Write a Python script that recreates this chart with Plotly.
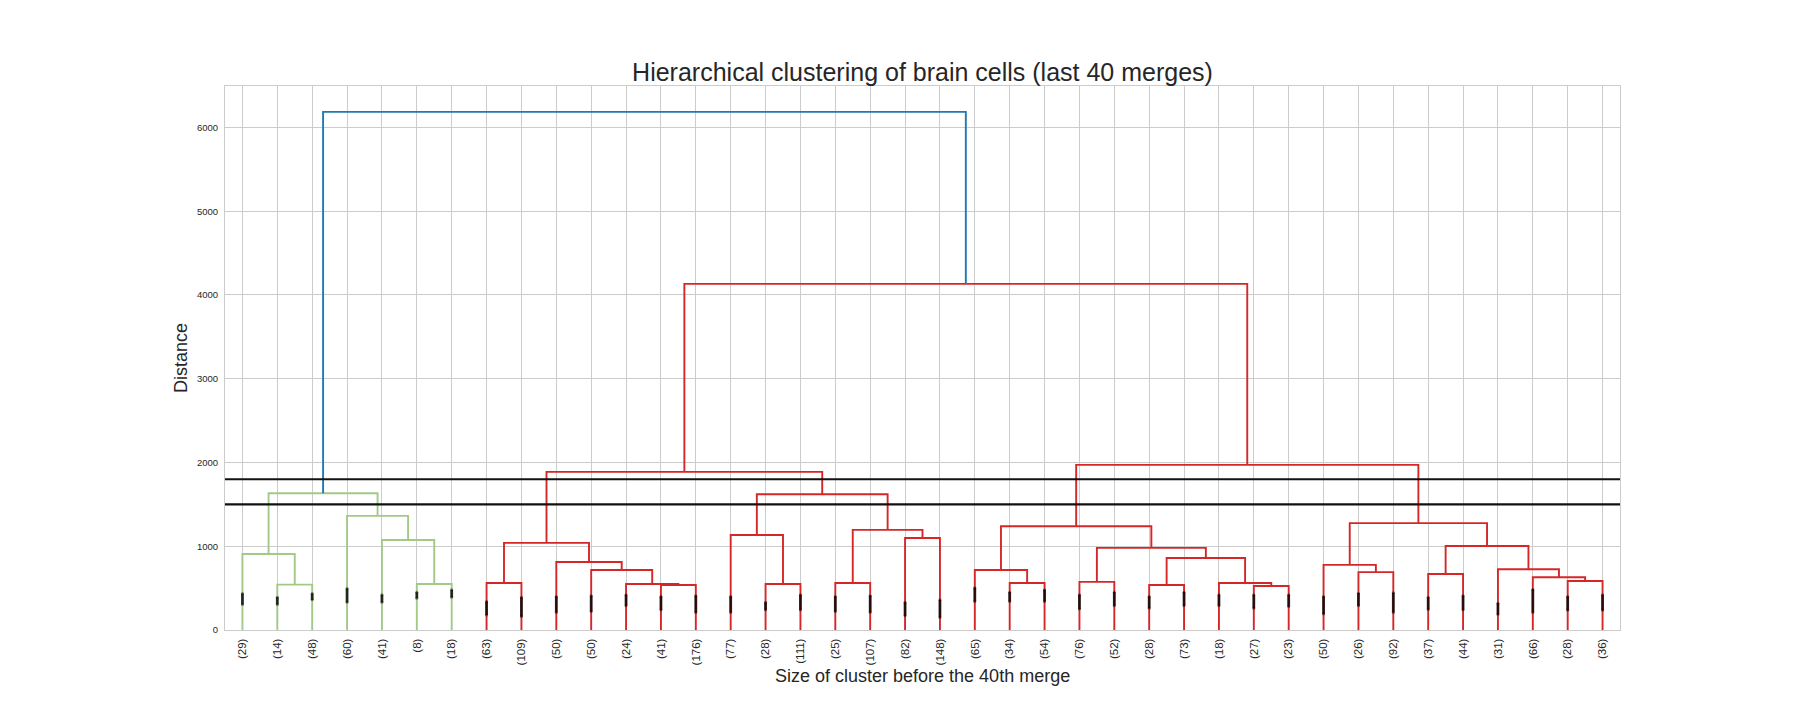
import plotly.graph_objects as go

# ---------------- data ----------------
leaf_labels = ["(29)", "(14)", "(48)", "(60)", "(41)", "(8)", "(18)", "(63)", "(109)", "(50)",
               "(50)", "(24)", "(41)", "(176)", "(77)", "(28)", "(111)", "(25)", "(107)", "(82)",
               "(148)", "(65)", "(34)", "(54)", "(76)", "(52)", "(28)", "(73)", "(18)", "(27)",
               "(23)", "(50)", "(26)", "(92)", "(37)", "(44)", "(31)", "(66)", "(28)", "(36)"]

# merges (node id = 40 + index); children refer to leaf index (<40) or earlier merge id
merge_a = [1, 0, 5, 4, 3, 41,
           7, 12, 11, 10, 9, 46, 15, 14, 17, 19, 54, 53, 51,
           22, 21, 24, 26, 29, 28, 62, 61, 60, 32, 31, 34, 38, 37, 36, 70, 69, 67, 58,
           45]
merge_b = [2, 40, 6, 42, 43, 44,
           8, 13, 47, 48, 49, 50, 16, 52, 18, 20, 55, 56, 57,
           23, 59, 25, 27, 30, 63, 64, 65, 66, 33, 68, 35, 39, 71, 72, 73, 74, 75, 76,
           77]
merge_height = [542, 908, 550, 1075, 1362, 1633,
                562, 538, 550, 717, 811, 1040, 550, 1135, 562, 1099, 1195, 1621, 1888,
                562, 717, 574, 538, 526, 562, 860, 980, 1239, 691, 777, 669, 585, 629, 725, 1003, 1276, 1971, 4132,
                6186]
merge_group = ["g"] * 6 + ["r"] * 32 + ["b"]

# contraction marks (range of merge heights inside each collapsed leaf)
mark_low = [305, 305, 360, 330, 330, 380, 390, 180, 160, 210,
            220, 290, 240, 210, 210, 240, 240, 220, 210, 170,
            150, 340, 340, 340, 250, 290, 260, 290, 290, 260,
            280, 190, 290, 210, 245, 240, 185, 210, 235, 235]
mark_high = [435, 390, 435, 495, 420, 450, 480, 340, 390, 400,
             410, 420, 400, 410, 400, 330, 420, 400, 410, 330,
             360, 505, 450, 480, 420, 450, 400, 450, 420, 420,
             420, 400, 440, 445, 390, 410, 320, 485, 400, 420]

thresholds = [1800, 1500]
y_ticks = [0, 1000, 2000, 3000, 4000, 5000, 6000]

# ---------------- styles ----------------
group_color = {"g": "#a3c986", "r": "#d62728", "b": "#1f7ab3"}
FONT = "Liberation Sans, Arial, sans-serif"
TXT = "#262626"

n_leaves = len(leaf_labels)
pos = {i: float(i) for i in range(n_leaves)}
hgt = {i: 0.0 for i in range(n_leaves)}

seg = {k: ([], []) for k in group_color}
for k, (a, b, h, g) in enumerate(zip(merge_a, merge_b, merge_height, merge_group)):
    node = n_leaves + k
    pos[node] = (pos[a] + pos[b]) / 2
    hgt[node] = h
    xs, ys = seg[g]
    xs += [pos[a], pos[a], pos[b], pos[b], None]
    ys += [hgt[a], h, h, hgt[b], None]

fig = go.Figure()
for g in ["g", "r", "b"]:
    xs, ys = seg[g]
    fig.add_trace(go.Scatter(x=xs, y=ys, mode="lines",
                             line=dict(color=group_color[g], width=1.9),
                             hoverinfo="skip", showlegend=False))

# contraction marks
mx, my = [], []
ex, ey = [], []
for i in range(n_leaves):
    mx += [pos[i], pos[i], None]
    my += [mark_low[i], mark_high[i], None]
    ex += [pos[i], pos[i]]
    ey += [mark_low[i], mark_high[i]]
fig.add_trace(go.Scatter(x=mx, y=my, mode="lines",
                         line=dict(color="rgba(0,0,0,0.8)", width=2.8),
                         hoverinfo="skip", showlegend=False))
fig.add_trace(go.Scatter(x=ex, y=ey, mode="markers",
                         marker=dict(color="rgba(0,0,0,0.45)", size=3.0, line=dict(width=0)),
                         hoverinfo="skip", showlegend=False))

for t in thresholds:
    fig.add_hline(y=t, line=dict(color="#111111", width=2.2))

fig.update_layout(
    width=1800, height=720,
    paper_bgcolor="white", plot_bgcolor="white",
    margin=dict(l=225, r=180, t=86, b=90),
    font=dict(family=FONT, color=TXT),
    title=dict(text="Hierarchical clustering of brain cells (last 40 merges)",
               x=0.5125, xanchor="center", y=0.9, yanchor="middle", yref="container",
               font=dict(size=25, color=TXT, family=FONT)),
    showlegend=False,
)
fig.update_xaxes(
    range=[-0.5, n_leaves - 0.5],
    tickmode="array", tickvals=list(range(n_leaves)), ticktext=leaf_labels,
    tickangle=-90, tickfont=dict(size=11.5, color=TXT, family=FONT),
    showgrid=True, gridcolor="#cccccc", gridwidth=1,
    showline=True, linecolor="#cccccc", linewidth=1, mirror=True,
    ticks="", zeroline=False, ticklabelstandoff=3,
)
fig.update_yaxes(
    range=[0, 6495],
    tickmode="array", tickvals=y_ticks,
    tickfont=dict(size=9.5, color=TXT, family=FONT),
    showgrid=True, gridcolor="#cccccc", gridwidth=1,
    showline=True, linecolor="#cccccc", linewidth=1, mirror=True,
    ticks="", zeroline=False, ticklabelstandoff=4,
)
fig.add_annotation(text="Size of cluster before the 40th merge", xref="paper", yref="paper",
                   x=0.5, y=-0.0846, xanchor="center", yanchor="middle", showarrow=False,
                   font=dict(size=18, color=TXT, family=FONT))
fig.add_annotation(text="Distance", xref="paper", yref="paper",
                   x=-0.0315, y=0.5, xanchor="center", yanchor="middle", showarrow=False,
                   textangle=-90, font=dict(size=18, color=TXT, family=FONT))

fig.write_html("out.html", config={"displayModeBar": False},
               post_script="document.body.style.margin='0';document.body.style.overflow='hidden';")
